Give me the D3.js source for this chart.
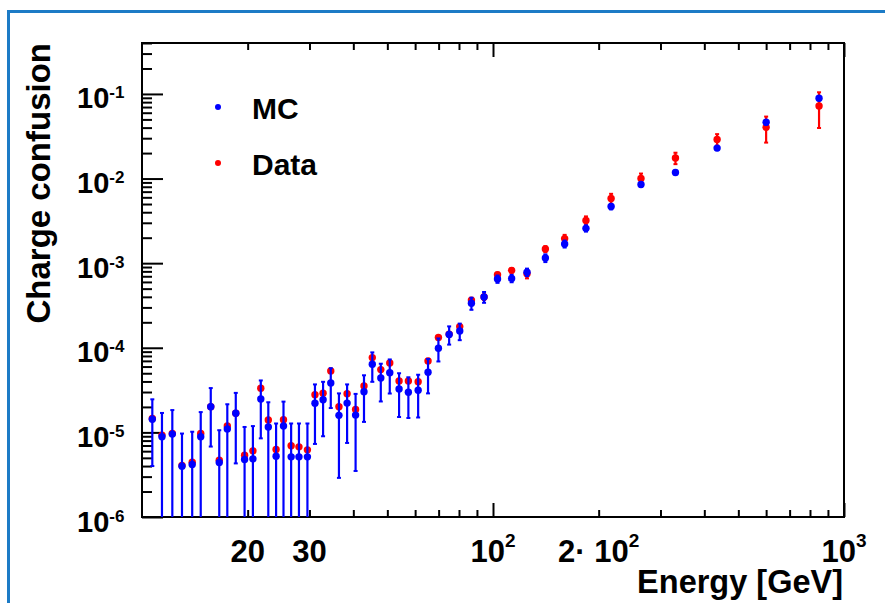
<!DOCTYPE html>
<html>
<head>
<meta charset="utf-8">
<script src="https://cdn.jsdelivr.net/npm/d3@7"></script>
<style>
  body { margin: 0; background: #fff; }
  svg text { font-family: "Liberation Sans", Arial, Helvetica, sans-serif; font-weight: bold; fill: #000; }
</style>
</head>
<body>
<div id="chart"></div>
<script>

// energy bin centres [GeV]
var energy = [10.7, 11.4, 12.2, 13.0, 13.9, 14.7, 15.7, 16.6, 17.5, 18.5,
              19.6, 20.7, 21.8, 22.9, 24.1, 25.3, 26.6, 28.0, 29.6, 31.1,
              32.8, 34.5, 36.4, 38.4, 40.6, 42.9, 45.3, 47.9, 50.8, 54.0,
              57.4, 61.2, 65.3, 69.9, 75.0, 80.4, 86.8, 94.3, 103, 113,
              125, 141, 160, 184, 217, 264, 331, 435, 600, 849];

// MC charge confusion and errors
var mcVal = [1.43e-5, 8.87e-6, 9.55e-6, 3.99e-6, 4.18e-6, 8.87e-6, 2.01e-5, 4.41e-6, 1.10e-5, 1.68e-5,
             4.79e-6, 4.87e-6, 2.48e-5, 1.16e-5, 5.24e-6, 1.19e-5, 5.14e-6, 5.14e-6, 5.14e-6, 2.21e-5,
             2.43e-5, 3.84e-5, 1.59e-5, 2.22e-5, 1.60e-5, 3.03e-5, 6.39e-5, 4.40e-5, 5.08e-5, 3.26e-5,
             2.98e-5, 3.15e-5, 5.14e-5, 9.89e-5, 1.44e-4, 1.58e-4, 3.36e-4, 3.98e-4, 6.50e-4, 6.61e-4,
             7.82e-4, 1.15e-3, 1.69e-3, 2.58e-3, 4.67e-3, 8.51e-3, 1.18e-2, 2.29e-2, 4.62e-2, 8.89e-2];
var mcErr = [1.03e-5, 8.1e-6, 8.8e-6, 5.7e-6, 6.0e-6, 8.5e-6, 1.33e-5, 6.2e-6, 1.05e-5, 1.25e-5,
             6.8e-6, 7.0e-6, 1.63e-5, 1.11e-5, 7.5e-6, 1.12e-5, 7.6e-6, 7.6e-6, 7.6e-6, 1.48e-5,
             1.53e-5, 1.9e-5, 1.3e-5, 1.47e-5, 1.25e-5, 1.7e-5, 2.43e-5, 2.08e-5, 2.2e-5, 1.74e-5,
             1.5e-5, 1.65e-5, 2.25e-5, 3.0e-5, 3.5e-5, 3.5e-5, 5.5e-5, 5.8e-5, 6.5e-5, 6.6e-5,
             8e-5, 1.2e-4, 1.6e-4, 2.2e-4, 3.5e-4, 5e-4, 6e-4, 1.2e-3, 3e-3, 5e-3];

// Data charge confusion and errors
var dataVal = [1.46e-5, 9.29e-6, 9.73e-6, 4.06e-6, 4.45e-6, 9.73e-6, 2.01e-5, 4.70e-6, 1.19e-5, 1.68e-5,
               5.38e-6, 6.05e-6, 3.32e-5, 1.40e-5, 6.29e-6, 1.41e-5, 6.94e-6, 6.75e-6, 6.22e-6, 2.79e-5,
               2.90e-5, 5.33e-5, 2.01e-5, 2.87e-5, 1.87e-5, 3.54e-5, 7.65e-5, 5.52e-5, 6.62e-5, 4.05e-5,
               4.05e-5, 3.98e-5, 7.00e-5, 1.32e-4, 1.45e-4, 1.78e-4, 3.66e-4, 3.98e-4, 7.31e-4, 8.22e-4,
               7.51e-4, 1.47e-3, 1.95e-3, 3.19e-3, 5.81e-3, 1.00e-2, 1.75e-2, 2.90e-2, 4.03e-2, 7.21e-2];
var dataErr = [0, 0, 0, 0, 0, 0, 0, 0, 0, 0,
               0, 0, 0, 0, 0, 0, 0, 0, 0, 0,
               0, 0, 0, 0, 0, 0, 0, 0, 0, 0,
               0, 0, 0, 0, 0, 0, 2e-5, 3e-5, 4e-5, 5e-5,
               9e-5, 1.2e-4, 2.1e-4, 3.8e-4, 7.9e-4, 1.46e-3, 2.7e-3, 4.5e-3, 1.37e-2, 3.25e-2];

// tick labels
var xLabelVals = [20, 30, 100, 200, 1000];
var xLabelBase = ["20", "30", "10", "2\u00B7 10", "10"];
var xLabelSup  = ["", "", "2", "2", "3"];
var yLabelVals = [1e-6, 1e-5, 1e-4, 1e-3, 1e-2, 1e-1];
var yLabelSup  = ["-6", "-5", "-4", "-3", "-2", "-1"];

var seriesNames = ["MC", "Data"];
var seriesColors = ["#0000ff", "#ff0000"];

// set the dimensions and margins of the graph
var margin = {top: 43, right: 41, bottom: 86, left: 142},
    width = 885 - margin.left - margin.right,
    height = 603 - margin.top - margin.bottom;

var root = d3.select("#chart")
  .append("svg")
    .attr("width", 885)
    .attr("height", 603);

// blue pad frame
root.append("rect")
  .attr("x", 8.5).attr("y", 11.5)
  .attr("width", 1000).attr("height", 1000)
  .attr("fill", "none")
  .attr("stroke", "#1c7bc6")
  .attr("stroke-width", 3);

var svg = root.append("g")
  .attr("transform", "translate(" + margin.left + "," + margin.top + ")");

var x = d3.scaleLog().domain([10, 1000]).range([0, width]);
var y = d3.scaleLog().domain([1e-6, 0.4]).range([height, 0]);

svg.append("clipPath").attr("id", "plotclip")
  .append("rect").attr("width", width).attr("height", height);

// tick positions (2..9 in each decade)
var xMinor = [], xMajor = [100, 1000];
[10, 100].forEach(function(d) {
  for (var m = 2; m <= 9; m++) xMinor.push(m * d);
});
var yMajor = yLabelVals, yMinor = [];
yLabelVals.forEach(function(d) {
  for (var m = 2; m <= 9; m++) if (m * d <= 0.4) yMinor.push(m * d);
});

function tickAxis(axis, vals, size) {
  return axis.tickValues(vals).tickSize(size).tickFormat("");
}
function styleAxis(g) {
  g.select(".domain").remove();
  g.selectAll("line").attr("stroke", "#000").attr("stroke-width", 2);
}

svg.append("g").attr("transform", "translate(0," + height + ")")
  .call(tickAxis(d3.axisBottom(x), xMinor, -7)).call(styleAxis);
svg.append("g").attr("transform", "translate(0," + height + ")")
  .call(tickAxis(d3.axisBottom(x), xMajor, -14)).call(styleAxis);
svg.append("g")
  .call(tickAxis(d3.axisTop(x), xMinor, -7)).call(styleAxis);
svg.append("g")
  .call(tickAxis(d3.axisTop(x), xMajor, -14)).call(styleAxis);
svg.append("g")
  .call(tickAxis(d3.axisLeft(y), yMinor, -10)).call(styleAxis);
svg.append("g")
  .call(tickAxis(d3.axisLeft(y), yMajor, -21)).call(styleAxis);

// frame
svg.append("rect")
  .attr("width", width).attr("height", height)
  .attr("fill", "none").attr("stroke", "#000").attr("stroke-width", 2);

// x labels
xLabelVals.forEach(function(v, i) {
  var t = svg.append("text")
    .attr("x", x(v)).attr("y", height + 45)
    .attr("text-anchor", "middle")
    .style("font-size", "31px");
  t.append("tspan").text(xLabelBase[i]);
  if (xLabelSup[i]) t.append("tspan").attr("dy", -15).style("font-size", "19px").text(xLabelSup[i]);
});

// y labels
yLabelVals.forEach(function(v, i) {
  var t = svg.append("text")
    .attr("x", -65).attr("y", y(v) + 14.5)
    .style("font-size", "29px");
  t.append("tspan").text("10");
  t.append("tspan").attr("dy", -10).style("font-size", "17px").text(yLabelSup[i]);
});

// axis titles
svg.append("text")
  .attr("x", width - 1).attr("y", height + 76)
  .attr("text-anchor", "end")
  .style("font-size", "32.5px")
  .text("Energy [GeV]");
svg.append("text")
  .attr("transform", "translate(-92,0) rotate(-90)")
  .attr("text-anchor", "end")
  .style("font-size", "33px")
  .text("Charge confusion");

// points with error bars: Data first, MC on top
function drawSeries(vals, errs, color) {
  var g = svg.append("g").attr("clip-path", "url(#plotclip)");
  var pts = energy.map(function(e, i) { return {e: e, v: vals[i], err: errs[i]}; });
  var lo = function(d) { return d.v - d.err > 0 ? y(d.v - d.err) : height + 5; };
  var hi = function(d) { return y(d.v + d.err); };
  var withErr = pts.filter(function(d) { return d.err > 0; });
  g.selectAll("line.bar").data(withErr).enter().append("line")
    .attr("x1", function(d) { return x(d.e); }).attr("x2", function(d) { return x(d.e); })
    .attr("y1", lo).attr("y2", hi)
    .attr("stroke", color).attr("stroke-width", 2.2);
  g.selectAll("line.capt").data(withErr).enter().append("line")
    .attr("x1", function(d) { return x(d.e) - 2; }).attr("x2", function(d) { return x(d.e) + 2; })
    .attr("y1", hi).attr("y2", hi)
    .attr("stroke", color).attr("stroke-width", 2);
  g.selectAll("line.capb").data(withErr.filter(function(d) { return d.v - d.err > 1e-6; })).enter().append("line")
    .attr("x1", function(d) { return x(d.e) - 2; }).attr("x2", function(d) { return x(d.e) + 2; })
    .attr("y1", lo).attr("y2", lo)
    .attr("stroke", color).attr("stroke-width", 2);
  g.selectAll("circle").data(pts).enter().append("circle")
    .attr("cx", function(d) { return x(d.e); })
    .attr("cy", function(d) { return y(d.v); })
    .attr("r", 3.7)
    .attr("fill", color);
}
drawSeries(dataVal, dataErr, seriesColors[1]);
drawSeries(mcVal, mcErr, seriesColors[0]);

// legend
var legend = svg.append("g").attr("transform", "translate(76,64)");
seriesNames.forEach(function(name, i) {
  legend.append("circle").attr("cx", 0).attr("cy", i * 56).attr("r", 3).attr("fill", seriesColors[i]);
  legend.append("text").attr("x", 34).attr("y", i * 56 + 11.5)
    .style("font-size", "30px").text(name);
});

</script>
</body>
</html>
